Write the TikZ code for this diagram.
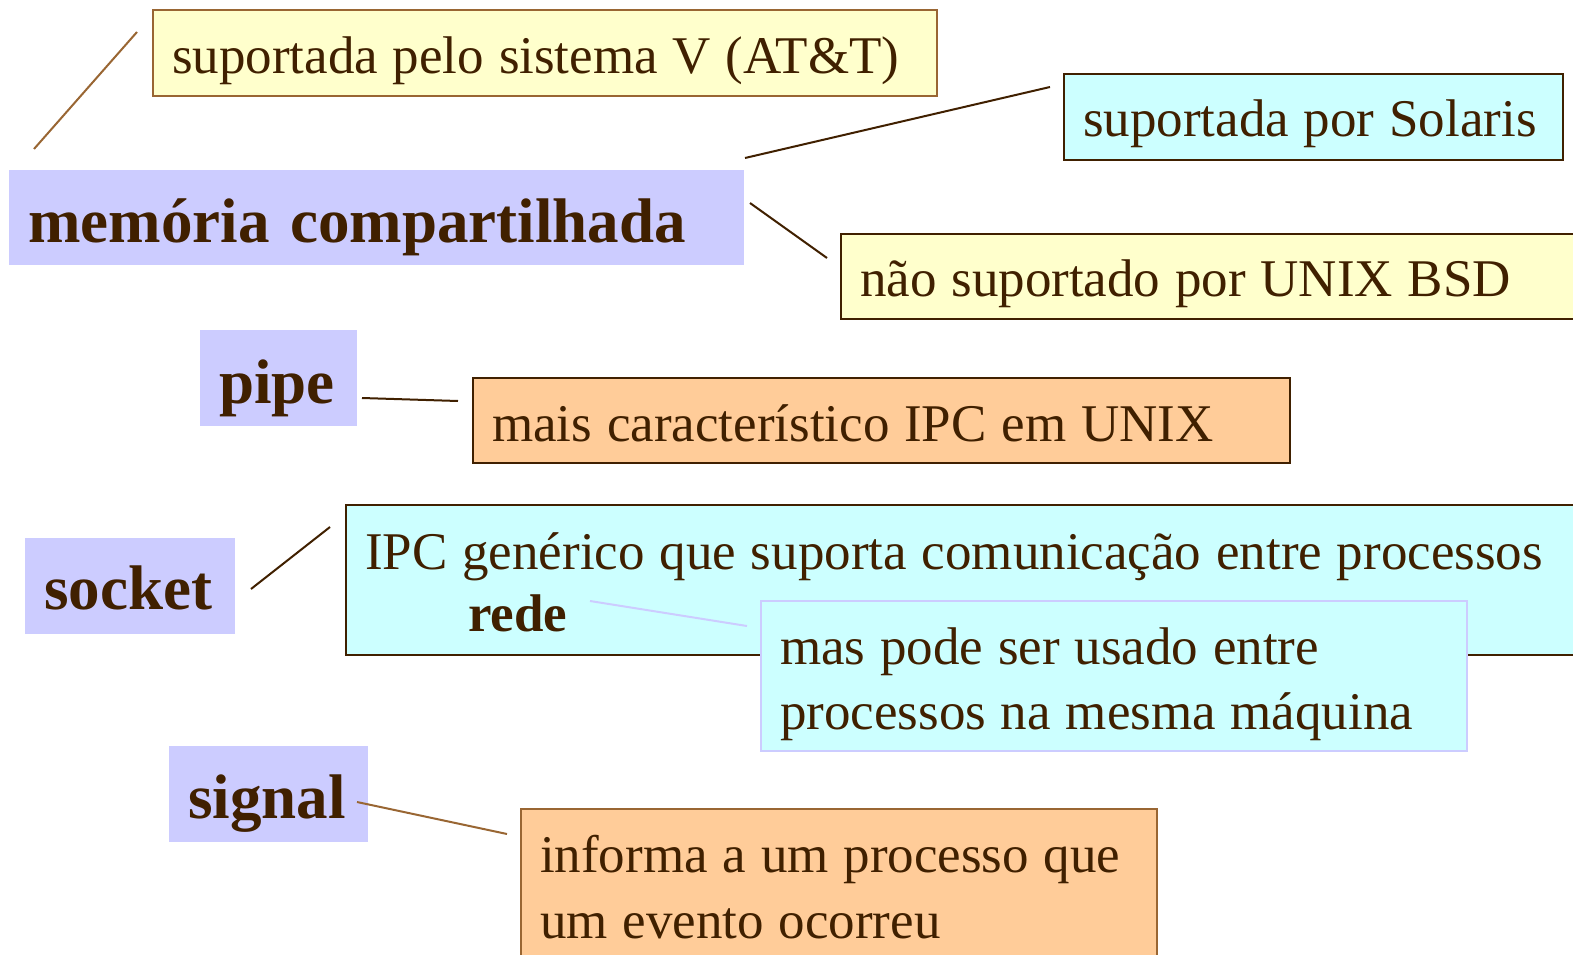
\documentclass[tikz,border=0pt]{standalone}
\usepackage{fontspec}
\setmainfont{Liberation Serif}
\definecolor{txt}{HTML}{402000}
\definecolor{lbrown}{HTML}{996633}
\definecolor{dbrown}{HTML}{402000}
\definecolor{yel}{HTML}{FFFFCC}
\definecolor{cyn}{HTML}{CCFFFF}
\definecolor{blu}{HTML}{CCCCFF}
\definecolor{org}{HTML}{FFCC99}
\newcommand\myregfont{\fontsize{53}{65}\selectfont}
\newcommand\mytermfont{\fontsize{63}{76}\selectfont\bfseries}
\newcommand\mynarrow{\spaceskip 14.8pt\relax}
\newcommand\mywide{\spaceskip 21pt\relax}
\tikzset{
  box/.style={anchor=north west, rectangle, inner xsep=19pt, inner ysep=0pt, align=left,
    text=txt, font=\myregfont, line width=2.2pt, execute at begin node=\mynarrow},
  term/.style={box, fill=blu, font=\mytermfont, execute at begin node=\mywide},
  conn/.style={line width=2pt, draw=dbrown},
  lconn/.style={line width=2pt, draw=lbrown},
  vconn/.style={line width=2pt, draw=blu},
}
\begin{document}
\begin{tikzpicture}[x=1pt, y=-1pt]
\useasboundingbox (0,0) rectangle (1573,955);
\clip (0,0) rectangle (1573,955);
% boxes
\node[box, fill=yel, draw=lbrown, text width=746pt, text height=63pt, text depth=23pt] (sys) at (152,9) {suportada pelo sistema V (AT\&T)};
\node[term, text width=697pt, text height=72pt, text depth=23pt] (mem) at (8,169) {memória compartilhada};
\node[box, fill=cyn, draw=dbrown, text width=461pt, text height=62pt, text depth=24pt] (sol) at (1063,73) {suportada por Solaris};
\node[box, fill=yel, draw=dbrown, text width=822pt, text height=62pt, text depth=23pt] (bsd) at (840,233) {não suportado por UNIX BSD};
\node[term, text width=119pt, text height=73pt, text depth=23pt] (pipe) at (199,329) {pipe};
\node[box, fill=org, draw=dbrown, text width=779pt, text height=63pt, text depth=22pt] (mais) at (472,377) {mais característico IPC em UNIX};
\node[term, text width=172pt, text height=71pt, text depth=25pt] (socket) at (24,537) {socket};
\node[box, fill=cyn, draw=dbrown, text width=1317pt, text height=64pt, text depth=86pt] (ipc) at (345,504) {IPC genérico que suporta comunicação entre processos\\[-3pt]\hspace*{103pt}\textbf{rede}};
\node[box, fill=cyn, draw=blu, text width=668pt, text height=63pt, text depth=87pt] (mas) at (760,600) {mas pode ser usado entre\\processos na mesma máquina};
\node[term, text width=161pt, text height=72pt, text depth=24pt] (signal) at (168,745) {signal};
\node[box, fill=org, draw=lbrown, text width=598pt, text height=63pt, text depth=129pt] (inf) at (520,808) {informa a um processo que\\[1pt]um evento ocorreu};
% connector ends
\coordinate (c1a) at (34,149);  \coordinate (c1b) at (137,32);
\coordinate (c2a) at (745,158); \coordinate (c2b) at (1050,87);
\coordinate (c3a) at (750,203); \coordinate (c3b) at (827,258);
\coordinate (c4a) at (362,398); \coordinate (c4b) at (458,401);
\coordinate (c5a) at (251,589); \coordinate (c5b) at (330,527);
\coordinate (c6a) at (590,601); \coordinate (c6b) at (747,626);
\coordinate (c7a) at (357,802); \coordinate (c7b) at (507,834);
\draw[lconn] (c1a) -- (c1b);
\draw[conn] (c2a) -- (c2b);
\draw[conn] (c3a) -- (c3b);
\draw[conn] (c4a) -- (c4b);
\draw[conn] (c5a) -- (c5b);
\draw[vconn] (c6a) -- (c6b);
\draw[lconn] (c7a) -- (c7b);
\end{tikzpicture}
\end{document}
